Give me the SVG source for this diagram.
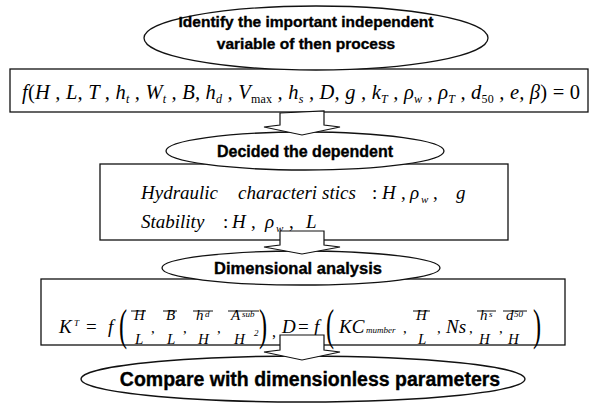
<svg xmlns="http://www.w3.org/2000/svg" width="593" height="405" viewBox="0 0 593 405">
<style>
.bx{fill:#fff;stroke:#111;stroke-width:1.3}
.el{fill:#fff;stroke:#111;stroke-width:1.3}
.ar{fill:#fff;stroke:#111;stroke-width:1.2;stroke-linejoin:miter}
.hd{font-family:"Liberation Sans",Arial,sans-serif;font-weight:bold;fill:#000;stroke:#000;stroke-width:0.35;text-anchor:middle}
.mt{font-family:"Liberation Serif","Times New Roman",serif;font-style:italic;fill:#000}
.u{font-style:normal}
.sb{font-size:12px}
.n{font-family:"Liberation Serif","Times New Roman",serif;font-style:italic;font-size:15px;fill:#000}
.sm{font-family:"Liberation Serif","Times New Roman",serif;font-style:italic;font-size:9px;fill:#000}
.pr{font-family:"Liberation Serif","Times New Roman",serif;font-size:44px;fill:#000}
.ov{stroke:#111;stroke-width:1}
</style>
<rect width="593" height="405" fill="#fff"/>

<g id="box1">
<rect class="bx" x="10" y="69" width="578" height="43"/>
<text class="mt" x="22" y="99" font-size="20.5" textLength="558" lengthAdjust="spacing">f<tspan class="u">(</tspan>H , L, T , h<tspan class="sb" dy="4">t</tspan><tspan dy="-4"> , W</tspan><tspan class="sb" dy="4">t</tspan><tspan dy="-4"> , B, h</tspan><tspan class="sb" dy="4">d</tspan><tspan dy="-4"> , V</tspan><tspan class="sb u" dy="4">max</tspan><tspan dy="-4"> , h</tspan><tspan class="sb" dy="4">s</tspan><tspan dy="-4"> , D, g , k</tspan><tspan class="sb" dy="4">T</tspan><tspan dy="-4"> , ρ</tspan><tspan class="sb" dy="4">w</tspan><tspan dy="-4"> , ρ</tspan><tspan class="sb" dy="4">T</tspan><tspan dy="-4"> , d</tspan><tspan class="sb u" dy="4">50</tspan><tspan dy="-4"> , e, β</tspan><tspan class="u">) = 0</tspan></text>
</g>

<g id="box2">
<rect class="bx" x="100" y="164" width="408" height="76"/>
<text class="mt" font-size="19" y="199"><tspan x="141">Hydraulic</tspan><tspan x="238">characteri</tspan><tspan x="322">stics</tspan><tspan x="372" class="u">:</tspan><tspan x="382">H</tspan><tspan x="401" class="u">,</tspan><tspan x="410">ρ</tspan><tspan x="421" y="203" font-size="11">w</tspan><tspan x="433" y="199" class="u">,</tspan><tspan x="456">g</tspan></text>
<text class="mt" font-size="19" y="228"><tspan x="141">Stability</tspan><tspan x="223" class="u">:</tspan><tspan x="232">H</tspan><tspan x="251" class="u">,</tspan><tspan x="265">ρ</tspan><tspan x="276" y="232" font-size="11">w</tspan><tspan x="289" y="228" class="u">,</tspan><tspan x="306">L</tspan></text>
</g>

<g id="box3">
<rect class="bx" x="41" y="279" width="524" height="66"/>
<text class="mt" font-size="19" x="59" y="333">K</text><text class="sm" x="74" y="326" font-size="10">T</text>
<text class="mt u" font-size="19" x="86" y="333">=</text>
<text class="mt" font-size="19" x="108" y="333">f</text>
<text class="pr" transform="translate(119,340) scale(0.55,1)">(</text>
<line class="ov" x1="131" y1="311" x2="146" y2="311"/>
<text class="n" x="134" y="320">H</text><text class="n" x="135" y="344">L</text>
<text class="mt u" font-size="15" x="151" y="333">,</text>
<line class="ov" x1="163" y1="311" x2="177" y2="311"/>
<text class="n" x="166" y="320">B</text><text class="n" x="167" y="344">L</text>
<text class="mt u" font-size="15" x="183" y="333">,</text>
<line class="ov" x1="193" y1="311" x2="213" y2="311"/>
<text class="n" x="196" y="320">h</text><text class="sm" x="205" y="317">d</text>
<text class="n" x="198" y="344">H</text>
<text class="mt u" font-size="15" x="217" y="333">,</text>
<line class="ov" x1="228" y1="311" x2="259" y2="311"/>
<text class="n" x="231" y="320">A</text><text class="sm" x="242" y="317">sub</text>
<text class="n" x="234" y="344">H</text><text class="sm u" x="254" y="336" font-size="10">2</text>
<text class="pr" transform="translate(259,340) scale(0.55,1)">)</text>
<text class="mt u" font-size="16" x="272" y="337">,</text>
<text class="mt" font-size="19" x="282" y="333">D</text>
<text class="mt u" font-size="19" x="298" y="333">=</text>
<text class="mt" font-size="19" x="314" y="333">f</text>
<text class="pr" transform="translate(326,340) scale(0.55,1)">(</text>
<text class="mt" font-size="19" x="339" y="333">KC</text><text class="sm" x="366" y="333" font-size="10">mumber</text>
<text class="mt u" font-size="15" x="403" y="333">,</text>
<line class="ov" x1="413" y1="311" x2="430" y2="311"/>
<text class="n" x="416" y="320">H</text><text class="n" x="418" y="344">L</text>
<text class="mt u" font-size="15" x="437" y="333">,</text>
<text class="mt" font-size="19" x="446" y="333">Ns</text>
<text class="mt u" font-size="15" x="469" y="333">,</text>
<line class="ov" x1="477" y1="311" x2="496" y2="311"/>
<text class="n" x="480" y="320">h</text><text class="sm" x="489" y="317">s</text>
<text class="n" x="479" y="344">H</text>
<text class="mt u" font-size="15" x="499" y="333">,</text>
<line class="ov" x1="503" y1="311" x2="527" y2="311"/>
<text class="n" x="506" y="320">d</text><text class="sm u" x="514" y="317">50</text>
<text class="n" x="508" y="344">H</text>
<text class="pr" transform="translate(533,340) scale(0.55,1)">)</text>
</g>

<g id="node1">
<ellipse class="el" cx="316" cy="38" rx="172" ry="32"/>
<text class="hd" font-size="15.5" x="306" y="27">Identify the important independent</text>
<text class="hd" font-size="15.5" x="306" y="49">variable of then process</text>
</g>

<g id="node2">
<ellipse class="el" cx="305" cy="151" rx="139" ry="19"/>
<text class="hd" font-size="16" x="305" y="157">Decided the dependent</text>
</g>

<g id="node3">
<ellipse class="el" cx="301" cy="268" rx="139" ry="17"/>
<text class="hd" font-size="16.5" x="298" y="274">Dimensional analysis</text>
</g>

<g id="node4">
<ellipse class="el" cx="303" cy="379" rx="222" ry="23"/>
<text class="hd" font-size="19.5" x="310" y="386">Compare with dimensionless parameters</text>
</g>

<g id="connectors">
<polygon class="ar" points="280,113 324,111 324,125 340,127 302,135 264,127 280,125"/>
<polygon class="ar" points="280,231 324,231 324,245 340,247 302,254 264,247 280,245"/>
<polygon class="ar" points="280,335 324,335 324,350 340,352 302,360 264,352 280,350"/>
</g>
</svg>
